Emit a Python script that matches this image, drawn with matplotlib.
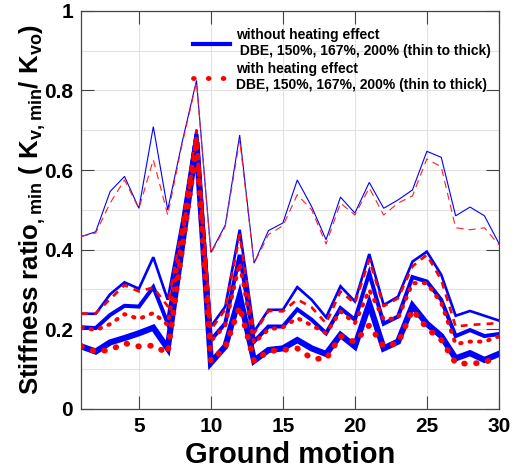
import numpy as np
import matplotlib
matplotlib.use('Agg')
import matplotlib.pyplot as plt
from matplotlib.lines import Line2D
from matplotlib.ticker import MultipleLocator, FuncFormatter

plt.rcParams['font.family'] = 'Liberation Sans'
plt.rcParams['font.weight'] = 'bold'
plt.rcParams['mathtext.fontset'] = 'custom'
plt.rcParams['mathtext.rm'] = 'Liberation Sans:bold'
plt.rcParams['mathtext.bf'] = 'Liberation Sans:bold'

gm = np.arange(1, 31)

# stiffness ratios, without heating effect
noheat_dbe = [0.433, 0.445, 0.546, 0.584, 0.504, 0.709, 0.500, 0.670, 0.825, 0.393,
              0.462, 0.688, 0.366, 0.448, 0.467, 0.575, 0.508, 0.425, 0.532, 0.492,
              0.569, 0.504, 0.525, 0.550, 0.647, 0.632, 0.485, 0.507, 0.485, 0.416]
noheat_150 = [0.239, 0.239, 0.288, 0.318, 0.302, 0.381, 0.274, 0.470, 0.700, 0.207,
              0.257, 0.450, 0.194, 0.249, 0.249, 0.306, 0.274, 0.230, 0.308, 0.270,
              0.389, 0.261, 0.282, 0.370, 0.395, 0.337, 0.234, 0.246, 0.234, 0.222]
noheat_167 = [0.205, 0.203, 0.236, 0.259, 0.257, 0.306, 0.215, 0.440, 0.690, 0.173,
              0.215, 0.387, 0.169, 0.207, 0.207, 0.250, 0.224, 0.190, 0.253, 0.224,
              0.341, 0.214, 0.232, 0.331, 0.320, 0.274, 0.183, 0.198, 0.183, 0.188]
noheat_200 = [0.157, 0.144, 0.167, 0.178, 0.190, 0.204, 0.152, 0.410, 0.670, 0.116,
              0.157, 0.284, 0.121, 0.148, 0.152, 0.173, 0.152, 0.138, 0.186, 0.157,
              0.264, 0.152, 0.169, 0.259, 0.214, 0.183, 0.127, 0.140, 0.123, 0.138]

# stiffness ratios, with heating effect
heat_dbe = [0.433, 0.442, 0.517, 0.575, 0.503, 0.626, 0.487, 0.665, 0.820, 0.390,
            0.458, 0.676, 0.365, 0.438, 0.460, 0.538, 0.500, 0.414, 0.517, 0.487,
            0.555, 0.487, 0.517, 0.535, 0.628, 0.608, 0.455, 0.450, 0.455, 0.412]
heat_150 = [0.239, 0.240, 0.276, 0.311, 0.295, 0.305, 0.258, 0.460, 0.700, 0.199,
            0.250, 0.437, 0.190, 0.246, 0.245, 0.275, 0.255, 0.215, 0.295, 0.265,
            0.375, 0.258, 0.278, 0.358, 0.387, 0.324, 0.207, 0.211, 0.213, 0.216]
heat_167 = [0.205, 0.198, 0.213, 0.238, 0.226, 0.241, 0.211, 0.430, 0.680, 0.170,
            0.210, 0.366, 0.165, 0.200, 0.205, 0.228, 0.210, 0.190, 0.245, 0.215,
            0.299, 0.225, 0.228, 0.316, 0.316, 0.266, 0.163, 0.169, 0.169, 0.182]
heat_200 = [0.157, 0.144, 0.148, 0.165, 0.157, 0.159, 0.140, 0.400, 0.660, 0.120,
            0.155, 0.257, 0.120, 0.145, 0.148, 0.152, 0.127, 0.125, 0.183, 0.168,
            0.210, 0.157, 0.165, 0.249, 0.203, 0.173, 0.115, 0.113, 0.117, 0.131]

fig = plt.figure(figsize=(5.18, 4.70), dpi=100)
ax = fig.add_axes([0.157, 0.130, 0.806, 0.847])

# blue: thin to thick = DBE, 150%, 167%, 200%
for y, lw in zip([noheat_dbe, noheat_150, noheat_167, noheat_200], [0.8, 1.9, 2.9, 4.4]):
    ax.plot(gm, y, color='#0000ff', lw=lw, solid_joinstyle='miter')

# red dashed/dotted on top
ax.plot(gm, heat_dbe, color='#ff2020', lw=0.8, dashes=(6.5, 4.5))
ax.plot(gm, heat_150, color='#ff0000', lw=1.9, dashes=(2.6, 2.3))
ax.plot(gm, heat_167, color='#ff0000', lw=2.9, dashes=(0.35, 2.0), dash_capstyle='round')
ax.plot(gm, heat_200, color='#ff0000', lw=4.2, dashes=(0.1, 1.95), dash_capstyle='round')

ax.set_xlim(1, 30)
ax.set_ylim(0, 1)
ax.xaxis.set_major_locator(MultipleLocator(5))
ax.yaxis.set_major_locator(MultipleLocator(0.2))
ax.yaxis.set_minor_locator(MultipleLocator(0.1))
ax.yaxis.set_major_formatter(FuncFormatter(lambda v, p: '%g' % round(v, 2)))
ax.grid(True, which='both', color='#e2e2e2', lw=0.8)
ax.set_axisbelow(True)
ax.tick_params(which='major', direction='in', length=9.5, width=0.8, color='#444444',
               top=True, right=True, labelsize=15, pad=6)
ax.tick_params(which='minor', length=0)
for s in ax.spines.values():
    s.set_color('#444444')
    s.set_linewidth(0.9)

ax.set_xlabel('Ground motion', fontsize=21, fontweight='bold')
ax.xaxis.set_label_coords(0.5, -0.08)
ax.set_ylabel(r'Stiffness ratio$_{\mathbf{,min}}$ ( K$_{\mathbf{v,min}}$/ K$_{\mathbf{vo}}$)',
              fontsize=18.5, fontweight='bold')
ax.yaxis.set_label_coords(-0.08, 0.5)

handles = [Line2D([], [], color='#0000ff', lw=3),
           Line2D([], [], color='#ff0000', lw=3.5, dashes=(0.15, 2.9), dash_capstyle='round')]
labels = ['without heating effect\n DBE, 150%, 167%, 200% (thin to thick)',
          'with heating effect\nDBE, 150%, 167%, 200% (thin to thick)']
ax.legend(handles, labels, loc='upper left', bbox_to_anchor=(0.267, 0.957), frameon=False,
          borderpad=0, borderaxespad=0, handlelength=2.66, handletextpad=0.45,
          labelspacing=0.3, prop={'size': 10, 'weight': 'bold'})

fig.savefig('out.png', dpi=100)
